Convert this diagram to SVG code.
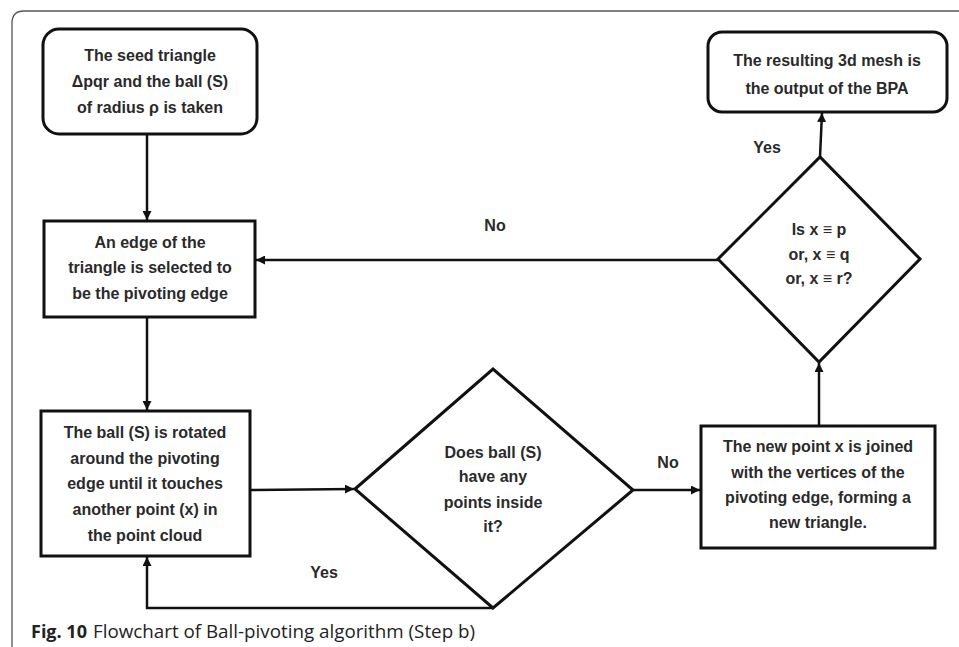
<svg xmlns="http://www.w3.org/2000/svg" width="959" height="647" viewBox="0 0 959 647">
<defs>
<style>
.nd{fill:#fff;stroke:#111;stroke-width:3}
.t{font-family:"Liberation Sans",Arial,sans-serif;font-weight:bold;font-size:16px;fill:#2a2a2a;text-anchor:middle}
.c{fill:none;stroke:#111;stroke-width:2.5}
.cap{font-family:"Open Sans","Noto Sans",sans-serif;font-size:18px;fill:#222}
</style>
<marker id="ah" viewBox="0 0 10 10" refX="10" refY="5" markerWidth="9" markerHeight="9" markerUnits="userSpaceOnUse" orient="auto">
<path d="M0,0 L10,5 L0,10 z" fill="#111"/>
</marker>
</defs>
<rect width="959" height="647" fill="#fff"/>
<path d="M12,647 V23 Q12,11 24,11 H959" fill="none" stroke="#555" stroke-width="1.3"/>

<g id="connectors">
<line class="c" x1="147" y1="134" x2="147" y2="220" marker-end="url(#ah)"/>
<line class="c" x1="147" y1="317" x2="147" y2="410" marker-end="url(#ah)"/>
<line class="c" x1="250" y1="490" x2="354" y2="489" marker-end="url(#ah)"/>
<line class="c" x1="633" y1="490" x2="700" y2="490" marker-end="url(#ah)"/>
<polyline class="c" points="493,608 147,608 147,557" marker-end="url(#ah)"/>
<line class="c" x1="819" y1="426" x2="819" y2="363" marker-end="url(#ah)"/>
<line class="c" x1="820" y1="157" x2="822" y2="113" marker-end="url(#ah)"/>
<line class="c" x1="718" y1="260" x2="256" y2="260" marker-end="url(#ah)"/>
<text class="t" x="495" y="231">No</text>
<text class="t" x="767" y="153">Yes</text>
<text class="t" x="668" y="468">No</text>
<text class="t" x="324" y="578">Yes</text>
</g>

<g id="seed">
<rect class="nd" x="43" y="29" width="214" height="105" rx="16"/>
<text class="t" x="150" y="61">The seed triangle</text>
<text class="t" x="150" y="87">Δpqr and the ball (S)</text>
<text class="t" x="150" y="113">of radius ρ is taken</text>
</g>

<g id="edge">
<rect class="nd" x="44" y="221" width="211" height="96"/>
<text class="t" x="150" y="248">An edge of the</text>
<text class="t" x="150" y="273">triangle is selected to</text>
<text class="t" x="150" y="299">be the pivoting edge</text>
</g>

<g id="rotate">
<rect class="nd" x="41" y="411" width="209" height="145"/>
<text class="t" x="145" y="438">The ball (S) is rotated</text>
<text class="t" x="145" y="464">around the pivoting</text>
<text class="t" x="145" y="489">edge until it touches</text>
<text class="t" x="145" y="515">another point (x) in</text>
<text class="t" x="145" y="541">the point cloud</text>
</g>

<g id="inside">
<polygon class="nd" points="355,489 493,369 633,490 493,608"/>
<text class="t" x="493" y="458">Does ball (S)</text>
<text class="t" x="493" y="482">have any</text>
<text class="t" x="493" y="508">points inside</text>
<text class="t" x="493" y="532">it?</text>
</g>

<g id="join">
<rect class="nd" x="701" y="426" width="234" height="122"/>
<text class="t" x="818" y="452">The new point x is joined</text>
<text class="t" x="818" y="478">with the vertices of the</text>
<text class="t" x="818" y="503">pivoting edge, forming a</text>
<text class="t" x="818" y="528">new triangle.</text>
</g>

<g id="same">
<polygon class="nd" points="718,259 820,157 920,259 819,362"/>
<text class="t" x="819" y="235">Is x ≡ p</text>
<text class="t" x="819" y="260">or, x ≡ q</text>
<text class="t" x="819" y="284">or, x ≡ r?</text>
</g>

<g id="output">
<rect class="nd" x="708" y="32" width="239" height="80" rx="14"/>
<text class="t" x="827" y="66">The resulting 3d mesh is</text>
<text class="t" x="827" y="94">the output of the BPA</text>
</g>

<text class="cap" x="31" y="638"><tspan font-weight="bold">Fig. 10</tspan><tspan x="93" font-size="18.8">Flowchart of Ball-pivoting algorithm (Step b)</tspan></text>
</svg>
